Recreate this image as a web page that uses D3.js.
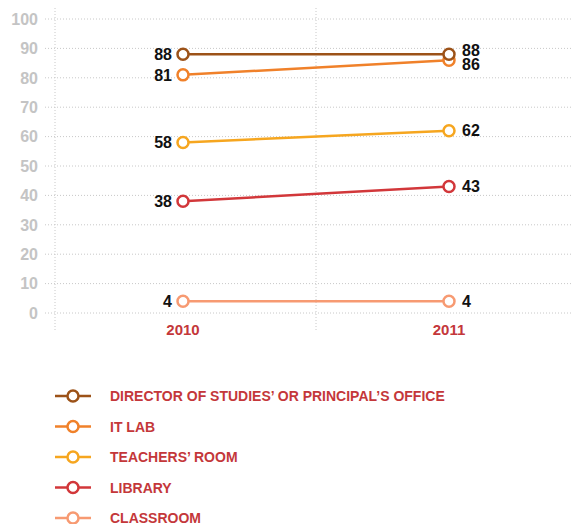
<!DOCTYPE html>
<html>
<head>
<meta charset="UTF-8"/>
<script src="https://d3js.org/d3.v7.min.js"></script>
<style>
body{margin:0;background:#fff;}
text{font-family:"Liberation Sans",Arial,sans-serif;}
</style>
</head>
<body>
<script>
// data
const years = ["2010", "2011"];
const names = ["DIRECTOR OF STUDIES’ OR PRINCIPAL’S OFFICE", "IT LAB", "TEACHERS’ ROOM", "LIBRARY", "CLASSROOM"];
const director = [88, 88];
const itLab = [81, 86];
const teachers = [58, 62];
const library = [38, 43];
const classroom = [4, 4];
const yTicks = [0, 10, 20, 30, 40, 50, 60, 70, 80, 90, 100];
const colors = ["#9c5218", "#f0812a", "#f6a61f", "#d2373a", "#f79a72"];

const series = [director, itLab, teachers, library, classroom]
  .map((v, i) => ({name: names[i], values: v, color: colors[i]}));

const width = 572, height = 524;

const svg = d3.select("body").append("svg")
  .attr("width", width)
  .attr("height", height);

const x = d3.scalePoint().domain(years).range([183, 449]);
const y = d3.scaleLinear().domain([0, 100]).range([313, 19]);

// grid
svg.append("g").selectAll("line")
  .data(yTicks).enter().append("line")
  .attr("x1", 45).attr("x2", width)
  .attr("y1", d => y(d)).attr("y2", d => y(d))
  .attr("stroke", "#c8c8c8").attr("stroke-dasharray", "1,2");

const vx = [55, (x("2010") + x("2011")) / 2];
svg.append("g").selectAll("line")
  .data(vx).enter().append("line")
  .attr("x1", d => d).attr("x2", d => d)
  .attr("y1", 8).attr("y2", 330)
  .attr("stroke", "#c8c8c8").attr("stroke-dasharray", "1,2");

// y axis labels
svg.append("g").selectAll("text")
  .data(yTicks).enter().append("text")
  .attr("x", 38).attr("y", d => y(d))
  .attr("dy", "0.36em")
  .attr("text-anchor", "end")
  .attr("fill", "#c4c4c4")
  .attr("font-size", 16)
  .attr("font-weight", "bold")
  .text(d => d);

// x axis labels
svg.append("g").selectAll("text")
  .data(years).enter().append("text")
  .attr("x", d => x(d)).attr("y", 335)
  .attr("text-anchor", "middle")
  .attr("fill", "#c4373a")
  .attr("font-size", 15)
  .attr("font-weight", "bold")
  .text(d => d);

// lines
const line = d3.line().x((d, i) => x(years[i])).y(d => y(d));

const g = svg.append("g").selectAll("g")
  .data(series.slice().reverse()).enter().append("g");

g.append("path")
  .attr("d", d => line(d.values))
  .attr("fill", "none")
  .attr("stroke", d => d.color)
  .attr("stroke-width", 2.5);

g.selectAll("circle")
  .data(d => d.values.map((v, i) => ({v, i, color: d.color})))
  .enter().append("circle")
  .attr("cx", d => x(years[d.i])).attr("cy", d => y(d.v))
  .attr("r", 5.5)
  .attr("fill", "#fff")
  .attr("stroke", d => d.color)
  .attr("stroke-width", 2.5);

// value labels, nudge apart where they collide
years.forEach((yr, i) => {
  const labs = series.map(s => ({v: s.values[i], pos: y(s.values[i])}))
    .sort((a, b) => a.pos - b.pos);
  for (let k = 1; k < labs.length; k++) {
    const gap = labs[k].pos - labs[k - 1].pos;
    if (gap < 14) {
      const shift = (14 - gap) / 2;
      labs[k - 1].pos -= shift;
      labs[k].pos += shift;
    }
  }
  svg.append("g").selectAll("text")
    .data(labs).enter().append("text")
    .attr("x", i === 0 ? x(yr) - 11 : x(yr) + 13)
    .attr("y", d => d.pos)
    .attr("dy", "0.36em")
    .attr("text-anchor", i === 0 ? "end" : "start")
    .attr("fill", "#111")
    .attr("font-size", 16)
    .attr("font-weight", "bold")
    .text(d => d.v);
});

// legend
const leg = svg.append("g").selectAll("g")
  .data(series).enter().append("g")
  .attr("transform", (d, i) => "translate(0," + (396 + i * 30.5) + ")");

leg.append("line")
  .attr("x1", 55).attr("x2", 91)
  .attr("stroke", d => d.color).attr("stroke-width", 2.5);
leg.append("circle")
  .attr("cx", 73).attr("r", 5.5)
  .attr("fill", "#fff")
  .attr("stroke", d => d.color).attr("stroke-width", 2.5);
leg.append("text")
  .attr("x", 110).attr("dy", "0.36em")
  .attr("fill", "#c4373a")
  .attr("font-size", 14)
  .attr("font-weight", "bold")
  .text(d => d.name);
</script>
</body>
</html>
